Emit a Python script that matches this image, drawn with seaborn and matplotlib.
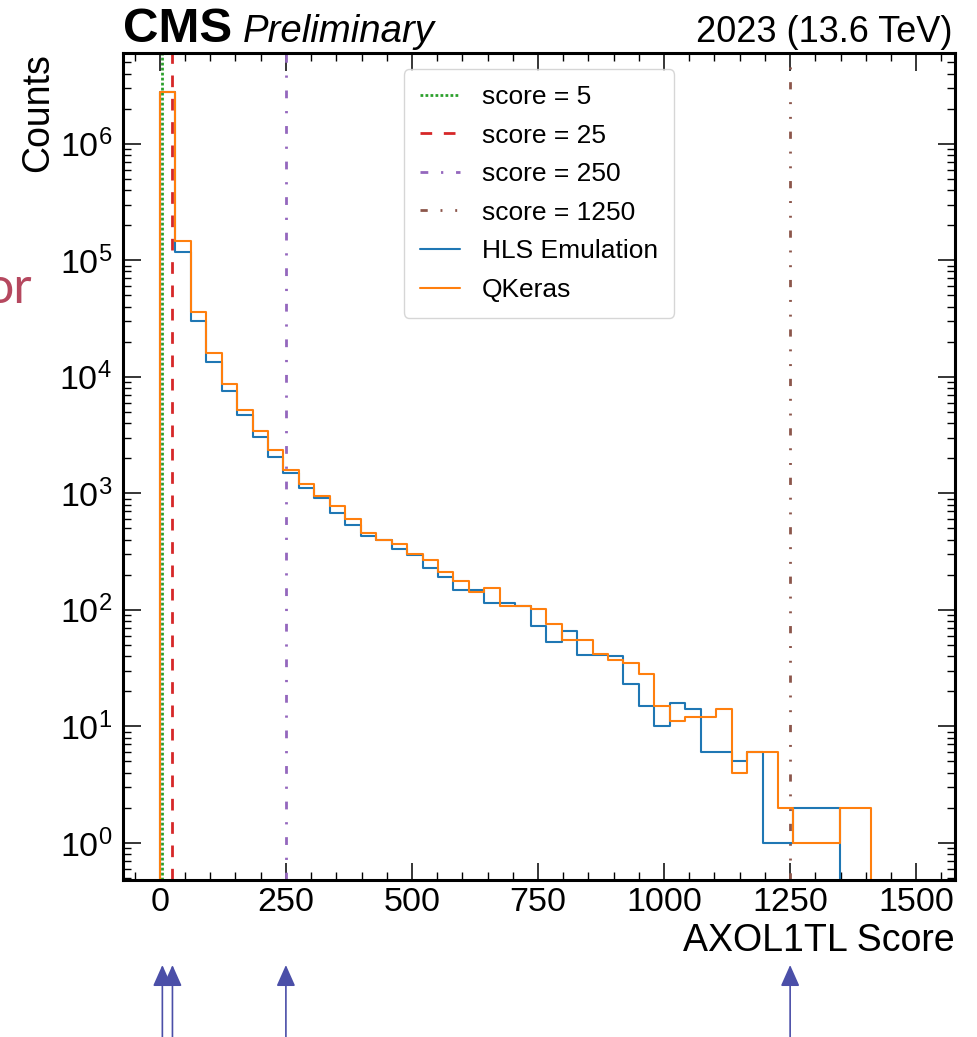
import numpy as np
import pandas as pd
import seaborn as sns
import matplotlib.pyplot as plt
from matplotlib.ticker import MultipleLocator, LogLocator, NullFormatter

# histogram binning (46 bins of equal width starting at 0)
bin_width = 30.65
n_bins = 46

# counts per bin
hls_counts = [2.80e6, 1.18e5, 2.98e4, 1.35e4, 7.48e3, 4.65e3, 3.04e3, 2.03e3, 1.48e3, 1.10e3,
              902, 676, 537, 431, 399, 332, 295, 228, 191, 149,
              149, 114, 114, 108, 72, 53, 66, 41, 41, 40,
              23, 15, 10, 16, 14, 6, 6, 5, 6, 1,
              1, 2, 2, 2, 0, 0]
qkeras_counts = [2.78e6, 1.46e5, 3.57e4, 1.59e4, 8.65e3, 5.21e3, 3.39e3, 2.35e3, 1.59e3, 1.21e3,
                 939, 770, 604, 455, 399, 364, 303, 269, 212, 177,
                 141, 154, 108, 108, 102, 75, 55, 55, 42, 37,
                 35, 28, 15, 11, 12, 12, 14, 4, 6, 6,
                 2, 1, 1, 1, 2, 2]

thresholds = [5, 25, 250, 1250]
threshold_colors = ['tab:green', 'tab:red', 'tab:purple', 'tab:brown']
threshold_styles = [(0, (1, 0.8)), (0, (4.2, 4.2)),
                    (0, (2.8, 4.6, 0.8, 4.6)), (0, (2.6, 4.6, 0.7, 4.6, 0.7, 4.6))]

sns.set_style('ticks')
plt.rcParams['font.family'] = ['Liberation Sans', 'DejaVu Sans']
plt.rcParams['mathtext.fontset'] = 'custom'
plt.rcParams['mathtext.rm'] = 'Liberation Sans'
plt.rcParams['mathtext.it'] = 'Liberation Sans:italic'
plt.rcParams['mathtext.bf'] = 'Liberation Sans:bold'
for key in ['text.color', 'axes.labelcolor', 'xtick.color', 'ytick.color', 'axes.edgecolor']:
    plt.rcParams[key] = 'black'

df = pd.DataFrame({
    'score': (np.arange(n_bins) + 0.5) * bin_width,
    'hls': hls_counts,
    'qkeras': qkeras_counts,
})
# one empty bin on each side so the outline drops to the baseline
edges = (np.arange(-1, n_bins + 2) * bin_width).tolist()

fig = plt.figure(figsize=(9.78, 10.37), dpi=100)
ax = fig.add_axes([0.1258, 0.1514, 0.8507, 0.7975])

for t, c, s in zip(thresholds, threshold_colors, threshold_styles):
    ax.axvline(t, color=c, ls=s, lw=2.0, label=f'score = {t}')

sns.histplot(data=df, x='score', weights='hls', bins=edges, element='step', fill=False,
             color='tab:blue', linewidth=1.5, label='HLS Emulation', ax=ax)
sns.histplot(data=df, x='score', weights='qkeras', bins=edges, element='step', fill=False,
             color='tab:orange', linewidth=1.5, label='QKeras', ax=ax)

ax.set_yscale('log')
ax.set_ylim(0.48, 6.0e6)
ax.set_xlim(-73, 1577)

ax.xaxis.set_major_locator(MultipleLocator(250))
ax.xaxis.set_minor_locator(MultipleLocator(50))
ax.yaxis.set_major_locator(LogLocator(base=10, numticks=100))
ax.yaxis.set_minor_locator(LogLocator(base=10, subs=np.arange(2, 10), numticks=100))
ax.yaxis.set_minor_formatter(NullFormatter())

ax.tick_params(which='both', direction='in', top=True, right=True, color='black',
               labelcolor='black')
ax.tick_params(which='major', length=12.6, width=1.1, labelsize=24.5)
ax.tick_params(which='minor', length=6.1, width=1.0)
ax.tick_params(axis='x', pad=5)
ax.tick_params(axis='y', pad=8)
for sp in ax.spines.values():
    sp.set_linewidth(2.2)
    sp.set_color('black')

ax.set_ylabel('Counts', fontsize=27, loc='top')
ax.yaxis.set_label_coords(-0.08, 1.0)
ax.set_xlabel('AXOL1TL Score', fontsize=27, loc='right')
ax.xaxis.set_label_coords(1.0, -0.052)

ax.text(0.0, 1.0133, 'CMS', transform=ax.transAxes, fontsize=35.5, fontweight='bold',
        va='baseline', ha='left')
ax.text(0.1442, 1.0133, 'Preliminary', transform=ax.transAxes, fontsize=27.6,
        style='italic', va='baseline', ha='left')
ax.text(0.997, 1.0133, '2023 (13.6 TeV)', transform=ax.transAxes, fontsize=26,
        va='baseline', ha='right')

ax.legend(loc='upper center', fontsize=19, handlelength=1.5, handletextpad=0.85,
          labelspacing=0.55, borderpad=0.6, borderaxespad=0.62)

# arrows under the axis marking the thresholds
for t in thresholds:
    ax.annotate('', xy=(t, -0.1028), xycoords=('data', 'axes fraction'),
                xytext=(t, -0.26), textcoords=('data', 'axes fraction'),
                annotation_clip=False,
                arrowprops=dict(arrowstyle='-|>,head_length=0.45,head_width=0.2',
                                color='#4b4fa8', lw=1.2, mutation_scale=29,
                                shrinkA=0, shrinkB=0))

fig.text(32 / 978, 1 - 303 / 1037, 'or', ha='right', va='baseline', fontsize=36,
         color='#b5485f', family=['Lato', 'DejaVu Sans'])

fig.savefig('out.png', dpi=100)
